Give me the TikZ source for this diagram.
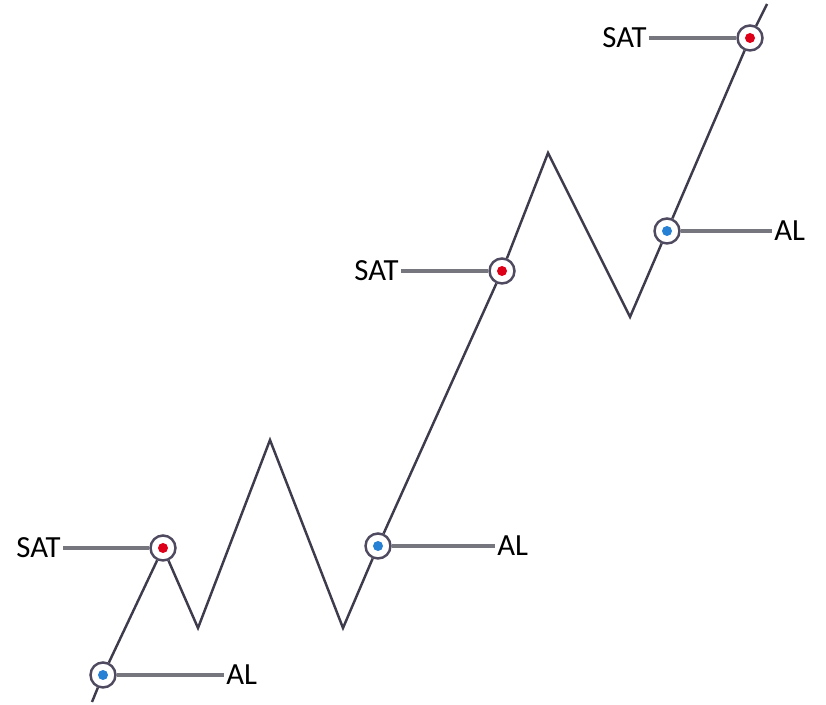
\documentclass[tikz,border=0pt]{standalone}
\usepackage{fontspec}
\setmainfont{Carlito}
\usetikzlibrary{positioning}
\definecolor{linegray}{RGB}{62,60,76}
\definecolor{leadgray}{RGB}{118,118,126}
\definecolor{ringgray}{RGB}{80,74,96}
\definecolor{dotred}{RGB}{222,0,24}
\definecolor{dotblue}{RGB}{38,128,212}
\tikzset{
  pin/.style    ={circle, draw=ringgray, line width=1.4pt, fill=white,
                  minimum size=0.5cm, inner sep=0pt},
  satdot/.style ={pin, path picture={\fill[dotred] (path picture bounding box.center) circle (0.1cm);}},
  aldot/.style  ={pin, path picture={\fill[dotblue] (path picture bounding box.center) circle (0.1cm);}},
  zig/.style    ={draw=linegray, line width=1.4pt, line join=miter},
  lead/.style   ={draw=leadgray, line width=2pt},
  tag/.style    ={font=\fontsize{17.5}{20}\selectfont, inner sep=0.04cm}
}
\begin{document}
\begin{tikzpicture}[x=0.02cm, y=-0.02cm]
\useasboundingbox (0,0) rectangle (826,705);

% turning points of the zigzag
\coordinate (start) at (92,702);
\coordinate (v1) at (198,628);
\coordinate (p1) at (270,440);
\coordinate (v2) at (343,628);
\coordinate (p2) at (548,153);
\coordinate (v3) at (630,317);
\coordinate (stop) at (767,4);

% markers
\node[aldot]  (al1)  at (103,675) {};
\node[satdot] (sat1) at (163,548) {};
\node[aldot]  (al2)  at (378,546) {};
\node[satdot] (sat2) at (502,271) {};
\node[aldot]  (al3)  at (667,231) {};
\node[satdot] (sat3) at (750,38)  {};

% labels
\node[tag, anchor=east] (satl1) at (63,548)  {SAT};
\node[tag, anchor=west] (all1)  at (224,675) {AL};
\node[tag, anchor=west] (all2)  at (495,546) {AL};
\node[tag, anchor=east] (satl2) at (401,271) {SAT};
\node[tag, anchor=west] (all3)  at (772,231) {AL};
\node[tag, anchor=east] (satl3) at (649,38)  {SAT};

% zigzag
\draw[zig] (start) -- (al1) (al1) -- (sat1) (sat1) -- (v1) -- (p1) -- (v2) -- (al2)
  (al2) -- (sat2) (sat2) -- (p2) -- (v3) -- (al3) (al3) -- (sat3) (sat3) -- (stop);

% leads
\foreach \m/\t in {sat1/satl1,al1/all1,al2/all2,sat2/satl2,al3/all3,sat3/satl3}{
  \draw[lead] (\m) -- (\t);
}
\end{tikzpicture}
\end{document}
